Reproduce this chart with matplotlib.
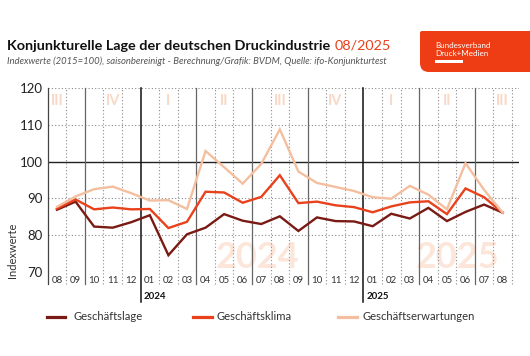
import matplotlib
matplotlib.use("Agg")
import matplotlib.pyplot as plt
import numpy as np
from matplotlib.path import Path
from matplotlib.patches import PathPatch, Rectangle
from matplotlib.lines import Line2D
from matplotlib.transforms import blended_transform_factory

plt.rcParams['font.family'] = ['Lato', 'DejaVu Sans']

# data (08/2023 - 08/2025)
months = ["08", "09", "10", "11", "12",
          "01", "02", "03", "04", "05", "06", "07", "08", "09", "10", "11", "12",
          "01", "02", "03", "04", "05", "06", "07", "08"]
quarters = ["III", "IV", "I", "II", "III", "IV", "I", "II", "III"]
years = ["2024", "2025"]
lage = [86.9, 89.1, 82.3, 82.0, 83.5, 85.4, 74.5, 80.2, 82.0, 85.7, 83.9, 83.0, 85.1,
        81.1, 84.8, 83.8, 83.7, 82.4, 85.8, 84.5, 87.4, 83.8, 86.3, 88.3, 86.1]
klima = [87.2, 89.7, 87.0, 87.5, 87.0, 87.1, 81.9, 83.6, 91.8, 91.6, 88.8, 90.4, 96.3,
         88.7, 89.1, 88.1, 87.6, 86.2, 87.8, 88.9, 89.2, 85.7, 92.7, 90.3, 86.1]
erwartungen = [87.7, 90.5, 92.5, 93.2, 91.4, 89.4, 89.5, 87.1, 102.9, 98.5, 94.0, 99.4, 108.8,
               97.3, 94.2, 93.1, 92.0, 90.3, 89.9, 93.4, 91.0, 87.0, 99.6, 92.3, 86.1]

DARK = "#7a1a14"
RED = "#e8411c"
LIGHT = "#f3bf9f"
PALE = "#fce5d9"

W, H = 530, 356
fig = plt.figure(figsize=(W / 100, H / 100), dpi=100)


def fx(px):
    return px / W


def fy(py):
    return 1 - py / H


ax_top, ax_bot = 88.3, 271.7
ax = fig.add_axes([fx(47.7), fy(ax_bot), fx(519) - fx(47.7), (ax_bot - ax_top) / H])
ax_h = ax_bot - ax_top
x = np.arange(len(months))

ax.set_xlim(-0.5, 24.88)
ax.set_ylim(70, 120)
for s in ax.spines.values():
    s.set_visible(False)

# horizontal grid
for v in [70, 80, 90, 110, 120]:
    ax.axhline(v, color="#8a8a8a", lw=0.8, ls=(0, (1, 2)), zorder=1)
ax.axhline(100, color="#222222", lw=1.0, zorder=1)

# month boundaries: dotted, quarter solid, year black
trans = blended_transform_factory(ax.transData, ax.transAxes)
for b in np.arange(-0.5, len(months)):
    idx = int(b + 0.5)
    m = months[idx] if idx < len(months) else ""
    low = -12 / ax_h
    if b == -0.5:
        ax.plot([b, b], [low, 1], transform=trans, color="#444444", lw=0.9, clip_on=False, zorder=1)
    elif m == "01":
        ax.plot([b, b], [-30 / ax_h, 1], transform=trans, color="#111111", lw=1.1, clip_on=False, zorder=1)
    elif m in ("04", "07", "10"):
        ax.plot([b, b], [low, 1], transform=trans, color="#666666", lw=0.9, clip_on=False, zorder=1)
    else:
        ax.plot([b, b], [low, 1], transform=trans, color="#8a8a8a", lw=0.8, ls=(0, (1, 2)),
                clip_on=False, zorder=1)

# year labels under axis
yi = 0
for i, m in enumerate(months):
    if m == "01":
        ax.text(i - 0.35, -25 / ax_h, years[yi], transform=trans, fontsize=7, fontweight="bold",
                color="#111111", ha="left", va="center")
        yi += 1

# background watermarks
ax.text(10.77, 70.9, years[0], fontsize=26, fontweight="bold", color=PALE, ha="center",
        va="baseline", zorder=0)
ax.text(21.56, 70.9, years[1], fontsize=26, fontweight="bold", color=PALE, ha="center",
        va="baseline", zorder=0)
for k, q in enumerate(quarters):
    ax.text(k * 3, 116.6, q, fontsize=10.5, fontweight="bold", color="#f8d8c6",
            ha="center", va="center", zorder=0)

ax.plot(x, lage, color=DARK, lw=1.7, zorder=3, solid_joinstyle="miter")
ax.plot(x, klima, color=RED, lw=1.7, zorder=4, solid_joinstyle="miter")
ax.plot(x, erwartungen, color=LIGHT, lw=1.7, zorder=5, solid_joinstyle="miter")

ax.set_yticks([70, 80, 90, 100, 110, 120])
ax.set_xticks(x, months)
ax.tick_params(axis="y", length=0, pad=3.5, labelsize=9.5, labelcolor="#222222")
ax.tick_params(axis="x", length=0, pad=2.8, labelsize=7, labelcolor="#333333")

fig.text(fx(12.7), fy(250), "Indexwerte", rotation=90, ha="center", va="center",
         fontsize=8, color="#333333")

# title + subtitle
t = fig.text(fx(7), fy(50), "Konjunkturelle Lage der deutschen Druckindustrie",
             fontsize=10.4, fontweight="bold", color="#111111", va="baseline")
fig.canvas.draw()
bb = t.get_window_extent()
fig.text((bb.x1 + 4) / W, fy(50), "08/2025", fontsize=10.4, color=RED, va="baseline")
fig.text(fx(7), fy(63.5),
         "Indexwerte (2015=100), saisonbereinigt - Berechnung/Grafik: BVDM, Quelle: ifo-Konjunkturtest",
         fontsize=6.8, style="italic", color="#555555", va="baseline")

# logo block
x0, x1, y0, y1, rt, rb = 420, 535, 31, 72, 2, 9
verts = [(x0 + rt, y0), (x1, y0), (x1, y1), (x0 + rb, y1), (x0, y1), (x0, y1 - rb),
         (x0, y0 + rt), (x0, y0), (x0 + rt, y0), (x0 + rt, y0)]
codes = [Path.MOVETO, Path.LINETO, Path.LINETO, Path.LINETO, Path.CURVE3, Path.CURVE3,
         Path.LINETO, Path.CURVE3, Path.CURVE3, Path.CLOSEPOLY]
verts = [(fx(a), fy(b)) for a, b in verts]
fig.patches.append(PathPatch(Path(verts, codes), facecolor="#ee3d14", edgecolor="none",
                             transform=fig.transFigure))
fig.text(fx(435), fy(47.5), "Bundesverband", fontsize=5.8, color="white", va="baseline")
fig.text(fx(435), fy(55.5), "Druck+Medien", fontsize=5.8, color="white", va="baseline")
fig.patches.append(Rectangle((fx(435), fy(62.5)), fx(463) - fx(435), 3 / H, facecolor="white",
                             edgecolor="none", transform=fig.transFigure))

# legend
leg = [("Geschäftslage", DARK, 46.7, 65, 73.3),
       ("Geschäftsklima", RED, 192.7, 211.7, 216.7),
       ("Geschäftserwartungen", LIGHT, 337.7, 357.3, 362.7)]
for name, c, a, b, tx in leg:
    fig.add_artist(Line2D([fx(a), fx(b)], [fy(316.7), fy(316.7)], color=c, lw=2.3,
                          transform=fig.transFigure))
    fig.text(fx(tx), fy(316.7), name, fontsize=8.1, color="#333333", va="center")

fig.savefig("out.png", dpi=100)
